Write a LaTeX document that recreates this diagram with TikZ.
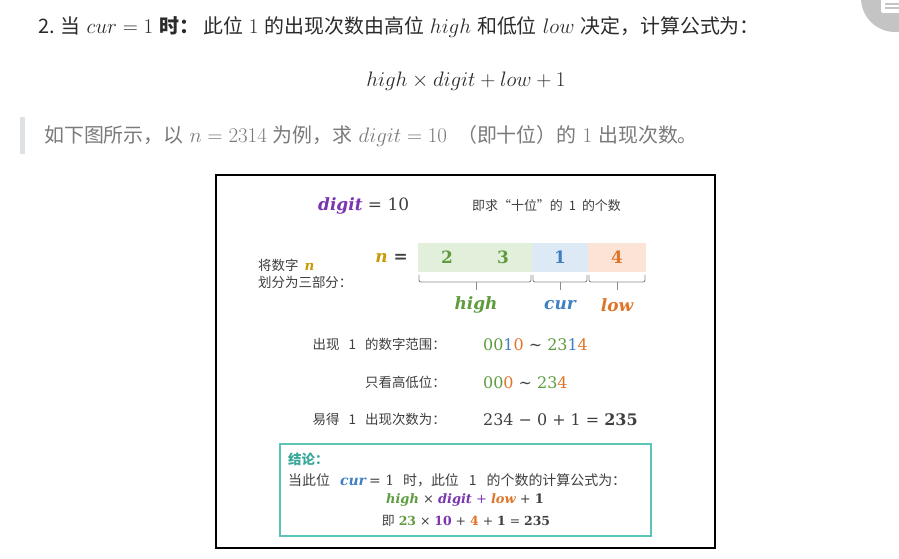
\documentclass[tikz,border=0pt]{standalone}
\usepackage{fix-cm}
\usepackage{fontspec}
\setmainfont{Noto Sans CJK SC}
\newfontfamily\dser{DejaVu Serif}
\definecolor{txt}{HTML}{2B2B2B}
\definecolor{qgray}{HTML}{7A7A7A}
\definecolor{bargray}{HTML}{DFE2E5}
\definecolor{circgray}{HTML}{C4C4C4}
\definecolor{dg}{HTML}{3F3F3F}
\definecolor{tgreen}{HTML}{5E9C3F}
\definecolor{tblue}{HTML}{3F7FC4}
\definecolor{torange}{HTML}{E07429}
\definecolor{tpurple}{HTML}{7A35B0}
\definecolor{tgold}{HTML}{C99A06}
\definecolor{fgreen}{HTML}{E2EFDA}
\definecolor{fblue}{HTML}{DDE9F5}
\definecolor{forange}{HTML}{FBE4D5}
\definecolor{teal}{HTML}{5CC4B6}
\definecolor{tealtxt}{HTML}{38A898}
\definecolor{brgray}{HTML}{8C8C8C}
\newcommand\mm[1]{{\fontsize{21}{23}\selectfont$#1$}}
\newcommand\bv[2]{\textcolor{#1}{\bfseries\itshape #2}}
\newcommand\gp{\hspace{6bp}}
\newcommand\sq{\hspace{6bp}}
\tikzset{
  top/.style={font=\fontsize{20}{23}\selectfont, text=txt, inner sep=0},
  cj/.style={font=\fontsize{13.5}{15}\selectfont, text=dg, inner sep=0},
  ser/.style={font=\dser\fontsize{16}{18}\selectfont, text=dg, inner sep=0},
  cell/.style={inner sep=0, minimum height=29bp},
  dig/.style={font=\dser\bfseries\fontsize{17}{19}\selectfont, inner sep=0},
  lab/.style={font=\dser\bfseries\itshape\fontsize{17}{19}\selectfont, inner sep=0},
  brace/.style={draw=brgray, line width=0.9bp, rounded corners=2bp},
}
\begin{document}
\begin{tikzpicture}[x=1bp,y=-1bp]
\fill[white] (0,0) rectangle (899,559);
\useasboundingbox (0,0) rectangle (899,559);
% corner circle
\begin{scope}
\clip (0,0) rectangle (899,559);
\fill[circgray] (895,-2) circle (34);
\fill[white, rounded corners=2bp] (881,-6) rectangle (906,13);
\draw[circgray, line width=1.2bp] (885,4) -- (899,4);
\draw[circgray, line width=1.2bp] (885,8) -- (899,8);
\end{scope}
% top line
\node[top, anchor=base west] (l1) at (38,34) {2.\sq 当\sq\mm{cur=1}\sq\textbf{时：}\hspace{4bp}此位\sq\mm{1}\sq 的出现次数由高位\sq\mm{high}\sq 和低位\sq\mm{low}\sq 决定，计算公式为：};
\node[inner sep=0, text=txt] (f1) at (466,81) {\mm{high\times digit+low+1}};
% quote
\fill[bargray] (20,117) rectangle (25,154);
\node[top, anchor=base west, text=qgray] (q) at (44,143) {如下图所示，以\sq\mm{n=2314}\sq 为例，求\sq\mm{digit=10}\hspace{10bp}（即十位）的\sq\mm{1}\sq 出现次数。};
% diagram frame
\draw[line width=1.3bp, black] (216,175) rectangle (715,548);
\node[ser, anchor=base west, font=\dser\fontsize{17}{19}\selectfont] (dig) at (318,211) {\bv{tpurple}{digit} = 10};
\node[cj, anchor=base west, font=\fontsize{13}{15}\selectfont] (ask) at (472,211) {即求“十位”的\gp 1\gp 的个数};
% n =
\node[dig, anchor=base east] (neq) at (408,263) {\textcolor{tgold}{\itshape n} \textcolor{dg}{=}};
\node[cj, anchor=base west] (sp1) at (258,271) {将数字\gp\textcolor{tgold}{\dser\bfseries\itshape n}};
\node[cj, anchor=base west] (sp2) at (258,288) {划分为三部分：};
\node[cell, fill=fgreen, minimum width=114bp] (cg) at (475,257.5) {};
\node[cell, fill=fblue, minimum width=56bp] (cb) at (560,257.5) {};
\node[cell, fill=forange, minimum width=58bp] (co) at (617,257.5) {};
\node[dig, text=tgreen] (d2) at (447,257) {2};
\node[dig, text=tgreen] (d3) at (503,257) {3};
\node[dig, text=tblue] (d1) at (560,257) {1};
\node[dig, text=torange] (d4) at (617,257) {4};
% braces
\draw[brace] (419,275) |- (531,282) -- (531,275);
\draw[brace] (476,282) -- (476,290);
\draw[brace] (533,275) |- (587,282) -- (587,275);
\draw[brace] (560,282) -- (560,290);
\draw[brace] (589,275) |- (645,282) -- (645,275);
\draw[brace] (617,282) -- (617,290);
\node[lab, text=tgreen] (hi) at (476,305) {high};
\node[lab, text=tblue] (cu) at (560,305) {cur};
\node[lab, text=torange] (lo) at (617,305) {low};
% rows
\node[cj, anchor=base east] (r1) at (446,350) {出现\hspace{9bp}1\hspace{9bp}的数字范围：};
\node[ser, anchor=base west] (v1) at (483,351) {\textcolor{tgreen}{00}\textcolor{tblue}{1}\textcolor{torange}{0} ∼ \textcolor{tgreen}{23}\textcolor{tblue}{1}\textcolor{torange}{4}};
\node[cj, anchor=base east] (r2) at (446,387) {只看高低位：};
\node[ser, anchor=base west] (v2) at (483,388) {\textcolor{tgreen}{00}\textcolor{torange}{0} ∼ \textcolor{tgreen}{23}\textcolor{torange}{4}};
\node[cj, anchor=base east] (r3) at (446,424) {易得\hspace{9bp}1\hspace{9bp}出现次数为：};
\node[ser, anchor=base west] (v3) at (483,425) {234 − 0 + 1 = \textbf{235}};
% conclusion box
\draw[teal, line width=1.2bp] (280,444) rectangle (651,536);
\node[cj, anchor=base west, text=tealtxt] (c0) at (288,464) {\bfseries 结论：};
\node[cj, anchor=base west, font=\fontsize{14}{16}\selectfont] (c1) at (288,485) {当此位\hspace{10bp}\textcolor{tblue}{\dser\bfseries\itshape cur} {\dser = 1}\hspace{9bp}时，此位\hspace{10bp}1\hspace{10bp}的个数的计算公式为：};
\node[ser, font=\dser\fontsize{13}{15}\selectfont] (c2) at (465,500) {\bv{tgreen}{high} × \bv{tpurple}{digit} \textcolor{tpurple}{+} \bv{torange}{low} + \textbf{1}};
\node[ser, font=\dser\fontsize{12.5}{15}\selectfont] (c3) at (466,521) {{\rmfamily\fontsize{13}{15}\selectfont 即} \textcolor{tgreen}{\bfseries 23} × \textcolor{tpurple}{\bfseries 10} + \textcolor{torange}{\bfseries 4} + \textbf{1} = \textbf{235}};
\end{tikzpicture}
\end{document}
